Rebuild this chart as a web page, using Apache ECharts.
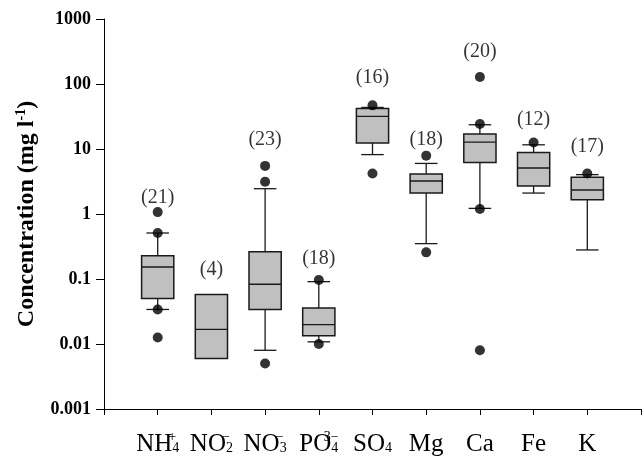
<!DOCTYPE html>
<html>
<head>
<meta charset="utf-8">
<script src="https://cdn.jsdelivr.net/npm/echarts@6/dist/echarts.min.js"></script>
<style>
  html, body { margin: 0; padding: 0; background: #fff; }
  #chart { width: 644px; height: 459px; }
</style>
</head>
<body>
<div id="chart"></div>
<script>
// ions / elements on the x axis
const categories = ['NH4+', 'NO2-', 'NO3-', 'PO43-', 'SO4', 'Mg', 'Ca', 'Fe', 'K'];
const categoryLabels = [
  '{m|NH}{sp|+}{sb|4}',
  '{m|NO}{sp|\u2212}{sb|2}',
  '{m|NO}{sp|\u2212}{sb|3}',
  '{m|PO}{sp|3\u2212}{sb|4}',
  '{m|SO}{sb|4}',
  '{m|Mg}', '{m|Ca}', '{m|Fe}', '{m|K}'
];

// box statistics (mg l-1)
const lowerWhisker = [0.034, null, 0.008, 0.0108, 8.2, 0.35, 1.22, 2.1, 0.28];
const q1 = [0.050, 0.006, 0.034, 0.0134, 12.4, 2.1, 6.2, 2.7, 1.66];
const median = [0.153, 0.0168, 0.083, 0.0198, 31.7, 3.22, 12.8, 5.1, 2.34];
const q3 = [0.228, 0.058, 0.263, 0.0358, 42.1, 4.13, 17.0, 8.87, 3.66];
const upperWhisker = [0.51, null, 2.45, 0.091, 43.6, 6.0, 23.6, 11.6, 4.03];

// outlying points per category
const outliers = [
  [1.07, 0.51, 0.034, 0.0126],
  [],
  [5.5, 3.14, 0.005],
  [0.0966, 0.010],
  [46.9, 4.2],
  [7.9, 0.257],
  [128, 24.2, 1.19, 0.008],
  [12.6],
  [4.2]
];

// sample sizes and the concentration where each (n) label sits
const sampleCount = [21, 4, 23, 18, 16, 18, 20, 12, 17];
const countLabelAt = [1.78, 0.139, 13.9, 0.205, 124, 13.9, 311, 28.2, 11];

const yTickLabels = ['0.001', '0.01', '0.1', '1', '10', '100', '1000'];

const serif = '"Liberation Serif", "Times New Roman", serif';

// category axis with an empty slot at each end
const xData = [''].concat(categories, ['']);
const xLabelMap = {};
categories.forEach((c, i) => { xLabelMap[c] = categoryLabels[i]; });

const boxData = categories.map((c, i) => [i + 1, lowerWhisker[i], q1[i], median[i], q3[i], upperWhisker[i]]);
const outlierData = [];
outliers.forEach((list, i) => list.forEach(v => outlierData.push([i + 1, v])));
const countData = categories.map((c, i) => [i + 1, countLabelAt[i], sampleCount[i]]);

const chart = echarts.init(document.getElementById('chart'), null, { renderer: 'canvas' });

const renderBox = (params, api) => {
  const x = api.value(0);
  const band = api.size([1, 0])[0];
  const hw = band * 0.3;
  const cw = band * 0.21;
  const pQ1 = api.coord([x, api.value(2)]);
  const pMed = api.coord([x, api.value(3)]);
  const pQ3 = api.coord([x, api.value(4)]);
  const cx = pQ1[0];
  const lineStyle = { stroke: '#1a1a1a', lineWidth: 1.3 };
  const children = [];
  const lo = api.value(1);
  const hi = api.value(5);
  if (!isNaN(lo) && lo !== null) {
    const pLo = api.coord([x, lo]);
    children.push({ type: 'line', shape: { x1: cx, y1: pQ1[1], x2: cx, y2: pLo[1] }, style: lineStyle });
    children.push({ type: 'line', shape: { x1: cx - cw, y1: pLo[1], x2: cx + cw, y2: pLo[1] }, style: lineStyle });
  }
  if (!isNaN(hi) && hi !== null) {
    const pHi = api.coord([x, hi]);
    children.push({ type: 'line', shape: { x1: cx, y1: pQ3[1], x2: cx, y2: pHi[1] }, style: lineStyle });
    children.push({ type: 'line', shape: { x1: cx - cw, y1: pHi[1], x2: cx + cw, y2: pHi[1] }, style: lineStyle });
  }
  children.push({
    type: 'rect',
    shape: { x: cx - hw, y: pQ3[1], width: hw * 2, height: pQ1[1] - pQ3[1] },
    style: { fill: '#c0c0c0', stroke: '#1a1a1a', lineWidth: 1.5 }
  });
  children.push({ type: 'line', shape: { x1: cx - hw, y1: pMed[1], x2: cx + hw, y2: pMed[1] }, style: lineStyle });
  return { type: 'group', children: children };
};

chart.setOption({
  animation: false,
  backgroundColor: '#fff',
  grid: { left: 104, top: 19, right: -3, bottom: 50, containLabel: false },
  xAxis: {
    type: 'category',
    data: xData,
    boundaryGap: false,
    axisLine: { lineStyle: { color: '#000', width: 1 } },
    axisTick: { show: true, inside: false, length: 6, lineStyle: { color: '#000' } },
    splitLine: { show: false },
    axisLabel: {
      interval: 0,
      margin: 21,
      color: '#000',
      fontFamily: serif,
      formatter: v => xLabelMap[v] || '',
      rich: {
        m: { fontFamily: serif, fontSize: 25, lineHeight: 28, color: '#000', verticalAlign: 'middle' },
        sb: { fontFamily: serif, fontSize: 14, lineHeight: 15, padding: [0, 0, 3, 0], color: '#000', verticalAlign: 'bottom' },
        sp: { fontFamily: serif, fontSize: 14, lineHeight: 17, color: '#000', verticalAlign: 'top', width: 0, align: 'left' }
      }
    }
  },
  yAxis: {
    type: 'log',
    logBase: 10,
    min: 0.001,
    max: 1000,
    name: '{a|Concentration (mg l}{s|-1}{a|)}',
    nameLocation: 'middle',
    nameRotate: 90,
    nameGap: 64,
    nameTextStyle: {
      rich: {
        a: { fontFamily: serif, fontSize: 24, fontWeight: 'bold', color: '#000', lineHeight: 26, verticalAlign: 'middle' },
        s: { fontFamily: serif, fontSize: 14, fontWeight: 'bold', color: '#000', lineHeight: 14, verticalAlign: 'top' }
      }
    },
    axisLine: { show: true, lineStyle: { color: '#000', width: 1 } },
    axisTick: { show: true, inside: false, length: 8, lineStyle: { color: '#000' } },
    minorTick: { show: false },
    splitLine: { show: false },
    axisLabel: {
      margin: 13,
      color: '#000',
      fontFamily: serif,
      fontSize: 18,
      fontWeight: 'bold',
      formatter: v => yTickLabels[Math.round(Math.log10(v)) + 3]
    }
  },
  series: [
    {
      name: 'boxes',
      type: 'custom',
      renderItem: renderBox,
      encode: { x: 0, y: [1, 2, 3, 4, 5] },
      data: boxData,
      z: 2
    },
    {
      name: 'outliers',
      type: 'scatter',
      data: outlierData,
      symbol: 'circle',
      symbolSize: 10,
      itemStyle: { color: '#000' },
      z: 3
    },
    {
      name: 'counts',
      type: 'scatter',
      data: countData,
      symbolSize: 0,
      itemStyle: { color: 'transparent' },
      label: {
        show: true,
        position: 'inside',
        formatter: p => '(' + p.value[2] + ')',
        fontFamily: serif,
        fontSize: 20,
        color: '#000'
      },
      z: 4
    }
  ]
});
</script>
</body>
</html>
